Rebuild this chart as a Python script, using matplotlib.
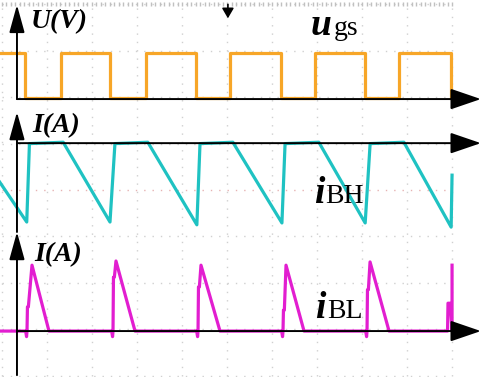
import matplotlib.pyplot as plt
from matplotlib.patches import FancyArrowPatch, ArrowStyle
import numpy as np

# temps en divisions d'oscillo (10 div), amplitudes en divisions (8 div)

# u_gs : fronts descendants / montants, niveaux haut et bas
ugs_fall = [0.51, 2.40, 4.31, 6.20, 8.07, 9.98]
ugs_rise = [1.31, 3.20, 5.07, 6.96, 8.82]
ugs_high = 2.95
ugs_low = 1.99

# i_BH : creux (fin de descente), debut et fin du plateau
ibh_valley_t = [0.55, 2.40, 4.33, 6.22, 8.07, 9.98]
ibh_valley_v = [-0.69, -0.69, -0.75, -0.71, -0.71, -0.80]
ibh_top_start = [0.61, 2.51, 4.40, 6.29, 8.18]
ibh_top_end = [1.36, 3.24, 5.13, 7.04, 8.93]
ibh_top = 1.0
ibh_first = 0.17
ibh_last = 0.32

# i_BL : pics
ibl_rise = [0.556, 2.467, 4.356, 6.244, 8.111]
ibl_step = [-2.52, -1.88, -2.09, -2.59, -2.15]
ibl_peak_t = [0.667, 2.533, 4.422, 6.311, 8.178]
ibl_peak_v = [-1.62, -1.53, -1.62, -1.62, -1.55]
ibl_end = [1.044, 2.956, 4.844, 6.711, 8.60]
ibl_base = -3.04
ibl_dip = -3.16

# axes des voies (niveau zero de chaque trace)
zero_ugs = 1.96
zero_ibh = 1.01
zero_ibl = -3.04

# construction des traces
ugs_t = [-0.05]
ugs_v = [ugs_high]
for k in range(len(ugs_fall)):
    ugs_t += [ugs_fall[k], ugs_fall[k]]
    ugs_v += [ugs_high, ugs_low]
    if k < len(ugs_rise):
        ugs_t += [ugs_rise[k], ugs_rise[k]]
        ugs_v += [ugs_low, ugs_high]

ibh_t = [-0.05]
ibh_v = [ibh_first]
for k in range(len(ibh_valley_t)):
    ibh_t.append(ibh_valley_t[k])
    ibh_v.append(ibh_valley_v[k])
    if k < len(ibh_top_start):
        ibh_t += [ibh_top_start[k], ibh_top_end[k]]
        ibh_v += [ibh_top, ibh_top + 0.03]
ibh_t.append(10.0)
ibh_v.append(ibh_last)

ibl_t = [-0.05]
ibl_v = [ibl_base]
for k in range(len(ibl_rise)):
    ibl_t += [ibl_rise[k] - 0.03, ibl_rise[k] - 0.01, ibl_rise[k], ibl_rise[k] + 0.01,
              ibl_rise[k] + 0.03, ibl_peak_t[k], ibl_end[k]]
    ibl_v += [ibl_base, ibl_dip, ibl_base, ibl_step[k], ibl_step[k], ibl_peak_v[k], ibl_base]
ibl_t += [9.90, 9.91, 9.96, 10.0, 10.0]
ibl_v += [ibl_base, -2.44, -2.44, ibl_base, -1.62]

fig = plt.figure(figsize=(4.84, 3.77), dpi=100)
ax = fig.add_axes([0, 0, 1, 1])
ax.set_xlim(-0.044, 10.71)
ax.set_ylim(-4.03, 4.095)
ax.axis('off')

# grille de l'oscillo
for gx in range(11):
    ax.plot([gx, gx], [-4, 4], color='#d0d0d0', lw=1, ls=(0, (1, 5)), zorder=0)
for gy in range(-4, 5):
    c = '#e6b3b3' if gy == 0 else '#d0d0d0'
    ax.plot([0, 10], [gy, gy], color=c, lw=1, ls=(0, (1, 5)), zorder=0)
ax.plot(np.arange(0, 10.01, 0.1), [4.0] * 101, ls='none', marker='|', ms=3,
        color='#c0c0c0', zorder=0)

# traces
ax.plot(ugs_t, ugs_v, color='#f7a628', lw=2.3, zorder=2)
ax.plot(ibh_t, ibh_v, color='#1fc2c2', lw=2.3, zorder=2)
ax.plot(ibl_t, ibl_v, color='#e21ed0', lw=2.3, zorder=2)

# axes avec fleches
x0 = 0.333
h_style = ArrowStyle('-|>', head_length=1.9, head_width=0.65)
v_style = ArrowStyle('-|>', head_length=1.7, head_width=0.47)
for z in [zero_ugs, zero_ibh, zero_ibl]:
    ax.add_patch(FancyArrowPatch((x0, z), (10.64, z), arrowstyle=h_style, mutation_scale=10,
                                 color='k', lw=1.4, shrinkA=0, shrinkB=0, zorder=5))
for y_start, y_tip in [(zero_ugs, 3.99), (-0.905, 1.68), (-3.99, -0.905)]:
    ax.add_patch(FancyArrowPatch((x0, y_start), (x0, y_tip), arrowstyle=v_style, mutation_scale=10,
                                 color='k', lw=1.4, shrinkA=0, shrinkB=0, zorder=5))

# marqueur de declenchement
ax.add_patch(FancyArrowPatch((5.02, 4.0), (5.02, 3.7), arrowstyle=ArrowStyle('-|>', head_length=0.6, head_width=0.35),
                             mutation_scale=10, color='k', lw=1.2, shrinkA=0, shrinkB=0, zorder=5))

# textes
serif = 'Liberation Serif'
lab = dict(family=serif, weight='bold', style='italic', fontsize=20, va='baseline', ha='left', zorder=6)
ax.text(0.64, 3.49, 'U(V)', **lab)
ax.text(0.67, 1.25, 'I(A)', **lab)
ax.text(0.71, -1.53, 'I(A)', **lab)

big = dict(family=serif, weight='bold', style='italic', fontsize=27, va='baseline', ha='left', zorder=6)
small = dict(family=serif, fontsize=20, va='baseline', ha='left', zorder=6)
ax.text(6.85, 3.34, 'u', **big)
ax.text(7.38, 3.34, 'gs', **small)
ax.text(6.93, -0.28, 'i', **big)
ax.text(7.18, -0.28, 'BH', **small)
ax.text(6.96, -2.76, 'i', **big)
ax.text(7.22, -2.76, 'BL', **small)

fig.savefig('out.png', dpi=100)
